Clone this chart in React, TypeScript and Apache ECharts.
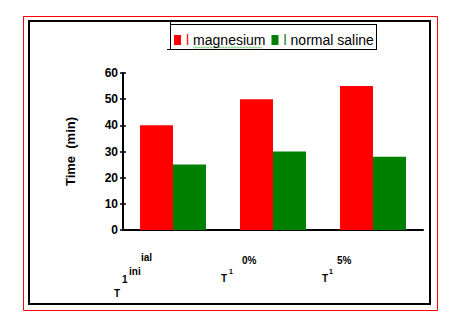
import React, { useEffect, useRef } from "react";
import * as echarts from "echarts";

const categories = ["T1 initial", "T1 0%", "T1 5%"];
const magnesium = [40, 50, 55];
const normalSaline = [25, 30, 28];
const yMin = 0;
const yMax = 60;
const yInterval = 10;
const seriesNames = ["magnesium", "normal saline"];
const seriesColors = ["#ff0000", "#008000"];

const FONT = "Liberation Sans, Arial, sans-serif";

function squiggle(x0: number, x1: number, y: number) {
  const pts: number[][] = [];
  let up = true;
  for (let x = x0; x <= x1; x += 1.5) {
    pts.push([x, up ? y - 0.8 : y + 0.8]);
    up = !up;
  }
  return pts;
}

export default function App() {
  const ref = useRef<HTMLDivElement>(null);
  useEffect(() => {
    document.body.style.margin = "0";
    const chart = echarts.init(ref.current!, undefined, { renderer: "svg" });
    const frag = (text: string, x: number, y: number, size = 10) => ({
      type: "text",
      x,
      y,
      style: {
        text,
        fill: "#000",
        font: `bold ${size}px ${FONT}`,
        textVerticalAlign: "middle",
      },
    });
    const line = (x1: number, y1: number, x2: number, y2: number) => ({
      type: "line",
      shape: { x1, y1, x2, y2 },
      style: { stroke: "#000", lineWidth: 1 },
    });
    chart.setOption({
      animation: false,
      textStyle: { fontFamily: FONT },
      grid: { left: 123, top: 73, width: 300, height: 157, containLabel: false },
      legend: {
        data: seriesNames,
        left: 174,
        top: 33,
        padding: 0,
        icon: "rect",
        itemWidth: 7,
        itemHeight: 10,
        itemGap: 6,
        textStyle: {
          fontSize: 14,
          color: "#000",
          fontFamily: FONT,
          rich: {
            r: { color: seriesColors[0], fontSize: 14, fontFamily: FONT, padding: [0, 4, 0, 0] },
            g: { color: seriesColors[1], fontSize: 14, fontFamily: FONT, padding: [0, 4, 0, 0] },
          },
        },
        formatter: (name: string) =>
          name === seriesNames[0] ? `{r|l}${name}` : `{g|l}${name}`,
      },
      xAxis: {
        type: "category",
        data: categories,
        axisLine: { lineStyle: { color: "#000", width: 2 } },
        axisTick: { show: false },
        axisLabel: { show: false },
      },
      yAxis: [
        {
          type: "value",
          min: yMin,
          max: yMax,
          interval: yInterval,
          name: "Time  (min)",
          nameLocation: "middle",
          nameGap: 46,
          nameTextStyle: { fontSize: 13, fontWeight: "bold", color: "#000", fontFamily: FONT },
          axisLine: { show: true, lineStyle: { color: "#000", width: 2 } },
          axisTick: { show: true, length: 3, lineStyle: { color: "#000", width: 1.5 } },
          axisLabel: { fontSize: 12, fontWeight: "bold", color: "#000", margin: 5, fontFamily: FONT },
          splitLine: { show: false },
        },
        {
          type: "value",
          min: yMin,
          max: yMax,
          interval: yInterval,
          position: "left",
          axisLine: { show: false },
          axisTick: { show: true, inside: true, length: 3, lineStyle: { color: "#000", width: 1.5 } },
          axisLabel: { show: false },
          splitLine: { show: false },
        },
      ],
      series: [
        {
          name: seriesNames[0],
          type: "bar",
          data: magnesium,
          barWidth: 33,
          barGap: "0%",
          itemStyle: { color: seriesColors[0] },
        },
        {
          name: seriesNames[1],
          type: "bar",
          data: normalSaline,
          barWidth: 33,
          barGap: "0%",
          itemStyle: { color: seriesColors[1] },
        },
      ],
      graphic: [
        {
          type: "rect",
          shape: { x: 23.5, y: 16.5, width: 414, height: 294 },
          style: { fill: "none", stroke: "#ff0000", lineWidth: 1 },
          silent: true,
        },
        {
          type: "rect",
          shape: { x: 29, y: 21, width: 401, height: 283 },
          style: { fill: "none", stroke: "#000", lineWidth: 2 },
          silent: true,
        },
        line(170.5, 22, 170.5, 49.5),
        line(170, 24.5, 376.5, 24.5),
        line(376.5, 24, 376.5, 49.5),
        line(167, 49.5, 377, 49.5),
        {
          type: "polyline",
          shape: { points: squiggle(193, 263, 47.5) },
          style: { stroke: "#4caf50", lineWidth: 0.8, fill: "none" },
        },
        frag("T", 114, 293),
        frag("1", 122, 279),
        frag("ini", 129, 271),
        frag("ial", 141, 257),
        frag("T", 221, 278),
        frag("1", 229, 271, 7),
        frag("0%", 242, 260),
        frag("T", 322, 278),
        frag("1", 329, 271, 7),
        frag("5%", 337, 260),
      ],
    });
    return () => chart.dispose();
  }, []);
  return (
    <div
      ref={ref}
      style={{ position: "fixed", left: 0, top: 0, width: 452, height: 327, background: "#fff" }}
    />
  );
}
